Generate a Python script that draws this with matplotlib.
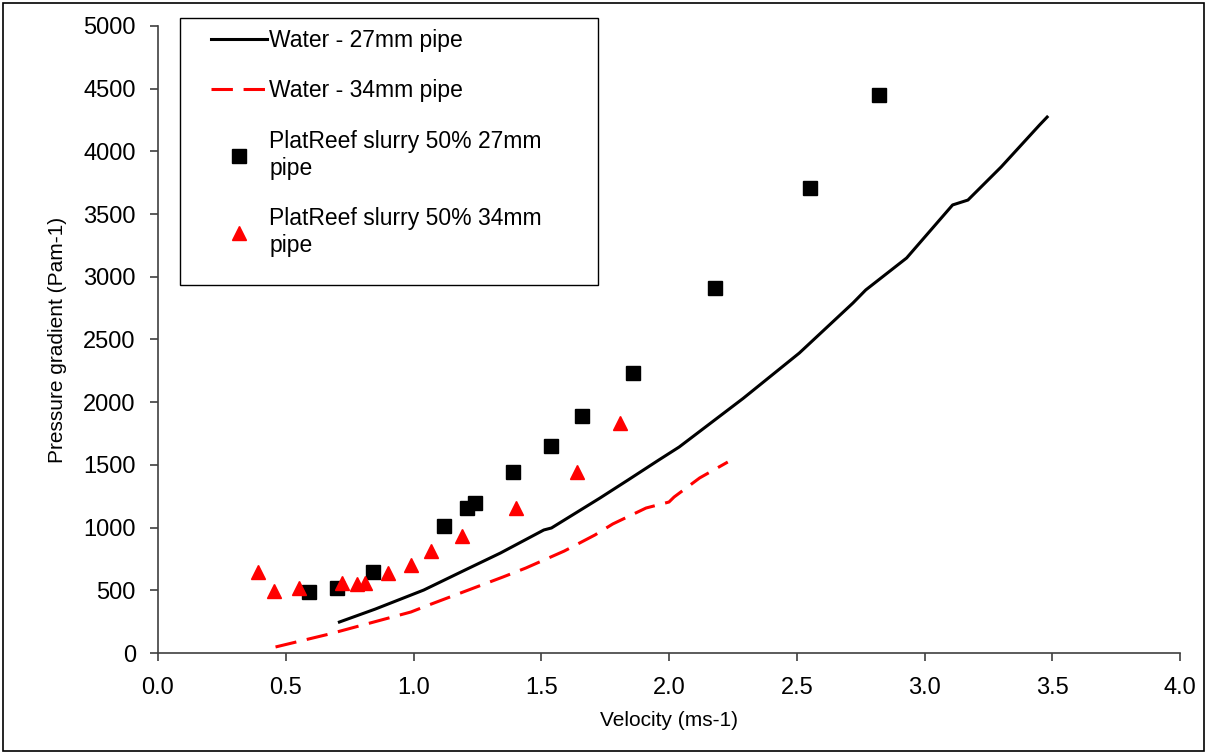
import matplotlib
matplotlib.use('Agg')
import matplotlib.pyplot as plt
from matplotlib.patches import Rectangle

plt.rcParams['font.family'] = ['Liberation Sans', 'DejaVu Sans']

# water, 27mm pipe (solid black)
water27_v = [0.71, 0.85, 1.04, 1.20, 1.34, 1.51, 1.54, 1.73, 1.84, 1.96, 2.04,
             2.29, 2.51, 2.72, 2.77, 2.93, 3.11, 3.17, 3.30, 3.45, 3.48]
water27_p = [247, 350, 502, 660, 797, 981, 997, 1236, 1380, 1539, 1643,
             2030, 2392, 2791, 2895, 3150, 3573, 3612, 3876, 4210, 4274]

# water, 34mm pipe (dashed red)
water34_v = [0.46, 0.67, 0.99, 1.06, 1.35, 1.44, 1.59, 1.71, 1.78, 1.91, 2.00,
             2.02, 2.12, 2.23]
water34_p = [48, 151, 327, 383, 606, 678, 813, 941, 1029, 1156, 1204,
             1244, 1396, 1523]

# slurry 27mm (squares)
slurry27_v = [0.59, 0.70, 0.84, 1.12, 1.21, 1.24, 1.39, 1.54, 1.66, 1.86, 2.18, 2.55, 2.82]
slurry27_p = [486, 518, 646, 1013, 1156, 1196, 1443, 1651, 1890, 2233, 2911, 3708, 4450]

# slurry 34mm (triangles)
slurry34_v = [0.39, 0.455, 0.55, 0.72, 0.78, 0.81, 0.90, 0.99, 1.07, 1.19, 1.40, 1.64, 1.81]
slurry34_p = [646, 494, 518, 558, 550, 558, 638, 702, 813, 933, 1156, 1443, 1834]

W, H = 1207, 754
fig = plt.figure(figsize=(W / 100, H / 100), dpi=100)
ax = fig.add_axes([158 / W, 1 - 653 / H, (1180 - 158) / W, (653 - 26) / H])

ax.plot(water27_v, water27_p, color='black', lw=2.2, label='Water - 27mm pipe')
ax.plot(water34_v, water34_p, color='red', lw=2.2, dashes=(7, 3.5),
        label='Water - 34mm pipe')
ax.plot(slurry27_v, slurry27_p, 's', color='black', ms=9.5, ls='none',
        label='PlatReef slurry 50% 27mm\npipe')
ax.plot(slurry34_v, slurry34_p, '^', color='red', ms=10, ls='none',
        label='PlatReef slurry 50% 34mm\npipe')

ax.set_xlim(0, 4.0)
ax.set_ylim(0, 5000)
ax.set_xticks([0.0, 0.5, 1.0, 1.5, 2.0, 2.5, 3.0, 3.5, 4.0])
ax.set_xticklabels(['0.0', '0.5', '1.0', '1.5', '2.0', '2.5', '3.0', '3.5', '4.0'])
ax.set_yticks(range(0, 5001, 500))
ax.tick_params(labelsize=17, length=6, width=1.2, color='#404040', pad=10)
ax.tick_params(axis='x', pad=11)
for s in ['top', 'right']:
    ax.spines[s].set_visible(False)
for s in ['left', 'bottom']:
    ax.spines[s].set_color('#404040')
    ax.spines[s].set_linewidth(1.2)

ax.set_xlabel('Velocity (ms-1)', fontsize=15, labelpad=9)
ax.set_ylabel('Pressure gradient (Pam-1)', fontsize=15, labelpad=12)

# legend without frame, box drawn separately like the excel one
leg = ax.legend(loc='upper left', bbox_to_anchor=(211 / W, 1 - 29 / H),
                bbox_transform=fig.transFigure, borderaxespad=0, borderpad=0,
                fontsize=16.5, handlelength=2.45, handletextpad=0.1,
                labelspacing=1.2, frameon=False)

fig.patches.append(Rectangle((180 / W, 1 - 285 / H), 418 / W, 267 / H,
                             transform=fig.transFigure, fill=False,
                             edgecolor='black', lw=1.0, zorder=5))
fig.patches.append(Rectangle((3 / W, 3 / H), 1 - 6 / W, 1 - 6 / H,
                             transform=fig.transFigure, fill=False,
                             edgecolor='black', lw=1.2))

fig.savefig('out.png', dpi=100)
